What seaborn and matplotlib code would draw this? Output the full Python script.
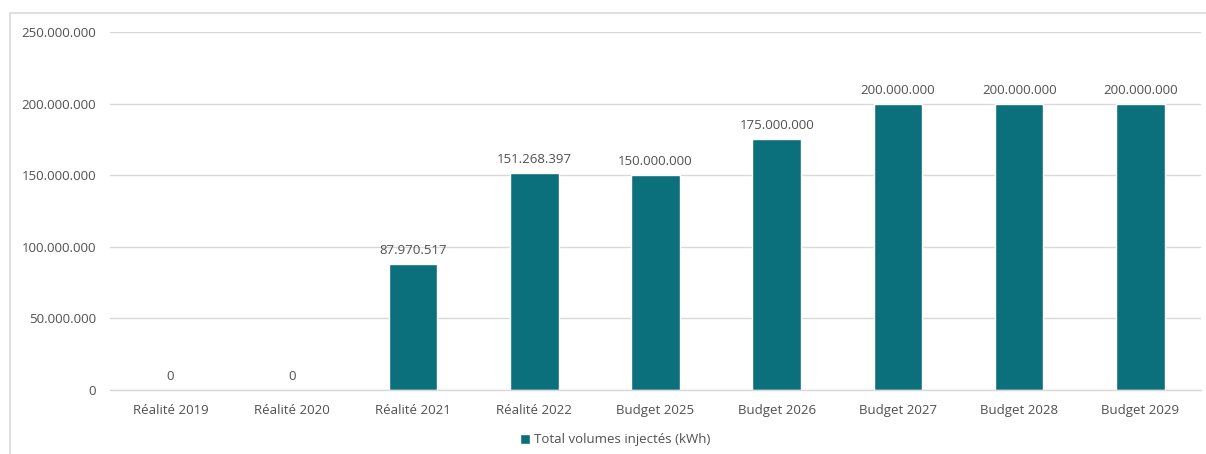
import matplotlib
matplotlib.use("Agg")
import matplotlib.pyplot as plt
import seaborn as sns
import pandas as pd
from matplotlib.patches import Rectangle
from matplotlib.ticker import FuncFormatter, MultipleLocator

categories = ["Réalité 2019", "Réalité 2020", "Réalité 2021", "Réalité 2022",
              "Budget 2025", "Budget 2026", "Budget 2027", "Budget 2028", "Budget 2029"]
values = [0, 0, 87970517, 151268397, 150000000, 175000000, 200000000, 200000000, 200000000]
series_name = "Total volumes injectés (kWh)"

df = pd.DataFrame({"cat": categories, "val": values, "series": series_name})

sns.set_theme(style="white")
plt.rcParams["font.family"] = ["Open Sans", "DejaVu Sans"]

W, H = 1206, 454
fig = plt.figure(figsize=(W / 100, H / 100), dpi=100)
ax = fig.add_axes([110 / W, 64 / H, (1201 - 110) / W, (390 - 32) / H])

bar_color = "#0B6F7C"
text_color = "#505050"
grid_color = "#D9D9D9"

sns.barplot(data=df, x="cat", y="val", hue="series", palette=[bar_color],
            width=0.4, ax=ax, saturation=1, legend=True)

def fmt(v):
    return f"{int(round(v)):,}".replace(",", ".")

ax.set_ylim(0, 250000000)
ax.set_xlim(-0.5, len(categories) - 0.5)
ax.yaxis.set_major_locator(MultipleLocator(50000000))
ax.yaxis.set_major_formatter(FuncFormatter(lambda v, p: fmt(v)))
ax.grid(axis="y", color=grid_color, linewidth=1)
ax.set_axisbelow(True)
for s in ["top", "right", "left"]:
    ax.spines[s].set_visible(False)
ax.spines["bottom"].set_color(grid_color)
ax.spines["bottom"].set_linewidth(1)
ax.tick_params(axis="y", length=0, pad=10, labelsize=9.5, labelcolor=text_color)
ax.tick_params(axis="x", length=0, pad=10, labelsize=9.5, labelcolor=text_color)
ax.set_xlabel("")
ax.set_ylabel("")

for i, v in enumerate(values):
    ax.annotate(fmt(v), (i, v), xytext=(0, 5), textcoords="offset points",
                ha="center", va="bottom", fontsize=9.5, color=text_color)

leg = ax.legend(loc="center", bbox_to_anchor=(615 / W, 1 - 440 / H),
                bbox_transform=fig.transFigure, frameon=False, fontsize=9.5,
                handlelength=0.8, handleheight=0.8, handletextpad=0.3)
for t in leg.get_texts():
    t.set_color(text_color)

fig.patches.append(Rectangle((10 / W, -0.1), 1.2, (H - 13) / H + 0.1,
                             transform=fig.transFigure, fill=False,
                             edgecolor="#D9D9D9", linewidth=1.2, zorder=0))

fig.savefig("out.png", dpi=100)
